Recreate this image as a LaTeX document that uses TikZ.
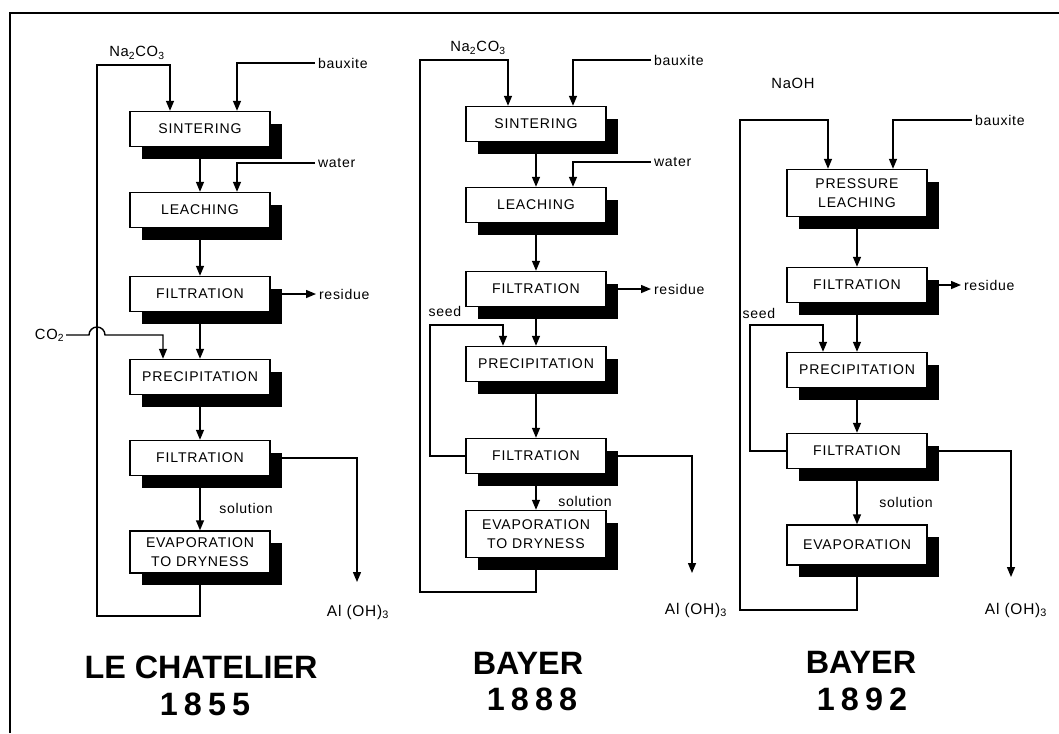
\documentclass[tikz,border=0pt]{standalone}
\usepackage{fontspec}
\setmainfont{Liberation Sans}
\newfontfamily\boxfont[LetterSpace=6]{Liberation Sans}
\newfontfamily\lblfont[LetterSpace=5]{Liberation Sans}
\newfontfamily\yearfont[LetterSpace=19]{Liberation Sans}
\usetikzlibrary{arrows.meta, positioning, calc, shadows}

\begin{document}
\begin{tikzpicture}[x=0.025cm, y=-0.025cm,
  stage/.style={draw, fill=white, line width=1pt, align=center,
                minimum width=3.5cm, minimum height=0.875cm, inner sep=1pt,
                font={\boxfont\fontsize{10}{14}\selectfont},
                general shadow={fill=black, shadow xshift=0.3cm, shadow yshift=-0.3cm}},
  arr/.style={-{Triangle[length=2.5mm, width=2mm]}, line width=1pt},
  lbl/.style={font={\lblfont\fontsize{10}{12}\selectfont}, inner sep=2pt},
  chem/.style={font={\lblfont\fontsize{10.5}{12}\selectfont}, inner sep=1pt},
  prod/.style={font={\lblfont\fontsize{11}{13}\selectfont}, inner sep=1pt},
  ttl/.style={font={\fontsize{23}{28}\selectfont\bfseries}},
  yr/.style={font={\yearfont\fontsize{23}{28}\selectfont\bfseries}}
]
\useasboundingbox (0,0) rectangle (1059,733);
\draw[line width=1.4pt] (10,733) -- (10,13) -- (1059,13);

% ----- Le Chatelier 1855 -----
\node[stage] (sint1) at (200,129) {SINTERING};
\node[stage] (leach1) at (200,210) {LEACHING};
\node[stage] (filtA1) at (200,294) {FILTRATION};
\node[stage] (prec1) at (200,377) {PRECIPITATION};
\node[stage] (filtB1) at (200,458) {FILTRATION};
\node[stage, minimum height=1.05cm] (evap1) at (200,552) {EVAPORATION\\TO DRYNESS};

\node[chem] (na1) at (137,53) {Na\textsubscript{2}CO\textsubscript{3}};
\node[lbl, anchor=west] (bx1) at (315,63) {bauxite};
\node[lbl, anchor=west] (wt1) at (315,163) {water};
\node[lbl, anchor=west] (res1) at (316,294) {residue};
\node[chem, anchor=east] (co1) at (66,335) {CO\textsubscript{2}};
\node[lbl] (sol1) at (246,508) {solution};
\node[prod] (al1) at (358,612) {Al (OH)\textsubscript{3}};
\coordinate (top1) at (97,65);
\coordinate (bot1) at (97,616);
\coordinate (alt1) at (357,582);

\draw[arr] (evap1.south) |- (bot1) -- (top1) -| ($(sint1.north)+(-30,0)$);
\draw[arr] (bx1.west) -| ($(sint1.north)+(37,0)$);
\draw[arr] (sint1) -- (leach1);
\draw[arr] (wt1.west) -| ($(leach1.north)+(37,0)$);
\draw[arr] (leach1) -- (filtA1);
\draw[arr] (filtA1.east) -- (res1.west);
\draw[arr] (co1.east) -- (89,335) arc[start angle=180, end angle=0, radius=0.2cm]
  -| ($(prec1.north)+(-37,0)$);
\draw[arr] (filtA1) -- (prec1);
\draw[arr] (prec1) -- (filtB1);
\draw[arr] (filtB1) -- (evap1);
\draw[arr] (filtB1.east) -| (alt1);

% ----- Bayer 1888 -----
\node[stage] (sint2) at (536,124) {SINTERING};
\node[stage] (leach2) at (536,205) {LEACHING};
\node[stage] (filtA2) at (536,289) {FILTRATION};
\node[stage] (prec2) at (536,364) {PRECIPITATION};
\node[stage] (filtB2) at (536,456) {FILTRATION};
\node[stage, minimum height=1.175cm] (evap2) at (536,534) {EVAPORATION\\TO DRYNESS};

\node[chem] (na2) at (478,48) {Na\textsubscript{2}CO\textsubscript{3}};
\node[lbl, anchor=west] (bx2) at (651,60) {bauxite};
\node[lbl, anchor=west] (wt2) at (651,162) {water};
\node[lbl, anchor=west] (res2) at (651,289) {residue};
\node[lbl] (seed2) at (445,311) {seed};
\node[lbl] (sol2) at (585,501) {solution};
\node[prod] (al2) at (696,610) {Al (OH)\textsubscript{3}};
\coordinate (top2) at (420,60);
\coordinate (bot2) at (420,592);
\coordinate (sd2) at (430,325);
\coordinate (alt2) at (692,573);

\draw[arr] (evap2.south) |- (bot2) -- (top2) -| ($(sint2.north)+(-28,0)$);
\draw[arr] (bx2.west) -| ($(sint2.north)+(37,0)$);
\draw[arr] (sint2) -- (leach2);
\draw[arr] (wt2.west) -| ($(leach2.north)+(37,0)$);
\draw[arr] (leach2) -- (filtA2);
\draw[arr] (filtA2.east) -- (res2.west);
\draw[arr] (filtA2) -- (prec2);
\draw[arr] (filtB2.west) -| (sd2) -| ($(prec2.north)+(-33,0)$);
\draw[arr] (prec2) -- (filtB2);
\draw[arr] (filtB2) -- (evap2);
\draw[arr] (filtB2.east) -| (alt2);

% ----- Bayer 1892 -----
\node[stage, minimum height=1.175cm] (press3) at (857,193) {PRESSURE\\LEACHING};
\node[stage] (filtA3) at (857,285) {FILTRATION};
\node[stage] (prec3) at (857,370) {PRECIPITATION};
\node[stage] (filtB3) at (857,451) {FILTRATION};
\node[stage, minimum height=1cm] (evap3) at (857,545) {EVAPORATION};

\node[chem] (naoh3) at (793,83) {NaOH};
\node[lbl, anchor=west] (bx3) at (972,120) {bauxite};
\node[lbl, anchor=west] (res3) at (961,285) {residue};
\node[lbl] (seed3) at (759,313) {seed};
\node[lbl] (sol3) at (906,502) {solution};
\node[prod] (al3) at (1016,610) {Al (OH)\textsubscript{3}};
\coordinate (top3) at (740,120);
\coordinate (bot3) at (740,610);
\coordinate (sd3) at (750,325);
\coordinate (alt3) at (1011,577);

\draw[arr] (evap3.south) |- (bot3) -- (top3) -| ($(press3.north)+(-29,0)$);
\draw[arr] (bx3.west) -| ($(press3.north)+(36,0)$);
\draw[arr] (press3) -- (filtA3);
\draw[arr] (filtA3.east) -- (res3.west);
\draw[arr] (filtA3) -- (prec3);
\draw[arr] (filtB3.west) -| (sd3) -| ($(prec3.north)+(-34,0)$);
\draw[arr] (prec3) -- (filtB3);
\draw[arr] (filtB3) -- (evap3);
\draw[arr] (filtB3.east) -| (alt3);

% ----- titles -----
\node[ttl] (t1) at (201,667) {LE CHATELIER};
\node[yr] (y1) at (205,704) {1855};
\node[ttl] (t2) at (528,663) {BAYER};
\node[yr] (y2) at (532,699) {1888};
\node[ttl] (t3) at (861,662) {BAYER};
\node[yr] (y3) at (862,699) {1892};
\end{tikzpicture}
\end{document}
